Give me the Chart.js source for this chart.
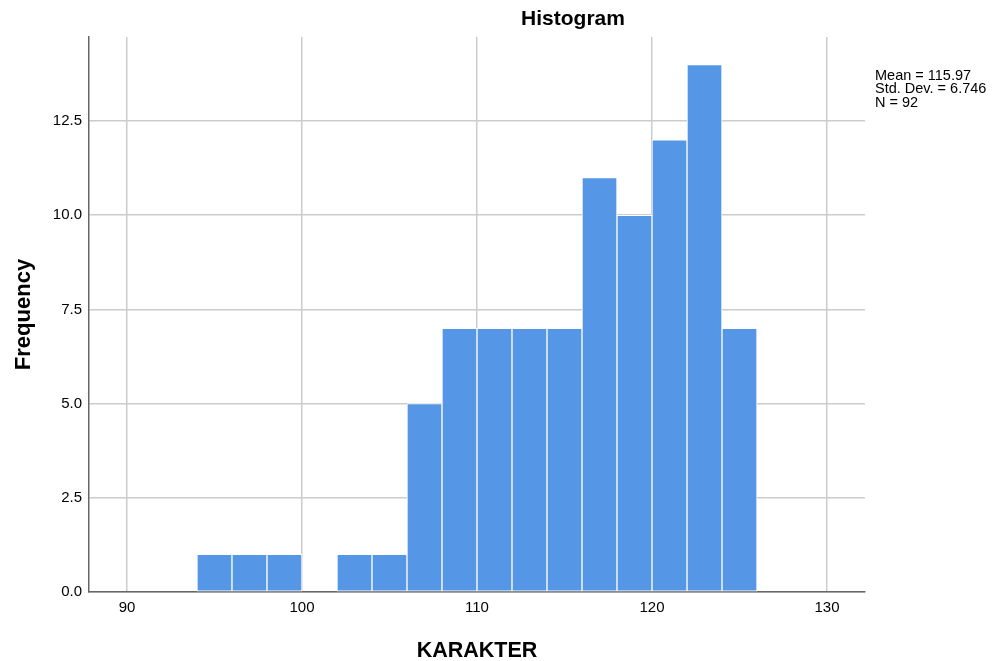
<!DOCTYPE html>
<html><head><meta charset="utf-8">
<script src="https://cdn.jsdelivr.net/npm/chart.js@4.4.0/dist/chart.umd.min.js"></script>
<style>html,body{margin:0;padding:0;background:#fff}#wrap{width:997px;height:661px;position:relative}</style>
</head><body><div id="wrap"><canvas id="c"></canvas></div>
<script>
const binCenters = [95, 97, 99, 101, 103, 105, 107, 109, 111, 113, 115, 117, 119, 121, 123, 125];
const frequencies = [1, 1, 1, 0, 1, 1, 5, 7, 7, 7, 7, 11, 10, 12, 14, 7];
const statsLines = ["Mean = 115.97", "Std. Dev. = 6.746", "N = 92"];
const chartTitle = "Histogram";
const xTitle = "KARAKTER";
const yTitle = "Frequency";

const FONT = "'Liberation Sans', Arial, sans-serif";

const overlay = {
  id: 'overlay',
  afterDraw(chart) {
    const ctx = chart.ctx;
    ctx.save();
    ctx.fillStyle = '#000';
    ctx.font = "bold 21px " + FONT;
    ctx.textAlign = 'center';
    ctx.textBaseline = 'middle';
    ctx.fillText(chartTitle, 573, 19);
    ctx.font = "14.5px " + FONT;
    ctx.textAlign = 'left';
    statsLines.forEach((s, i) => ctx.fillText(s, 875, 75.5 + i * 13.5));
    ctx.restore();
  }
};

const data = binCenters.map((x, i) => ({x: x, y: frequencies[i]}));

new Chart(document.getElementById('c'), {
  type: 'bar',
  data: { datasets: [{
    data: data,
    backgroundColor: '#5596e6',
    borderColor: '#ffffff',
    borderWidth: 1,
    borderSkipped: false,
    barPercentage: 1,
    categoryPercentage: 1
  }]},
  options: {
    responsive: true,
    maintainAspectRatio: false,
    animation: false,
    layout: { padding: { left: 0, top: 37, right: 132, bottom: 0 } },
    plugins: { legend: { display: false }, tooltip: { enabled: false } },
    scales: {
      x: {
        type: 'linear',
        offset: false,
        min: 87.83, max: 132.17,
        afterFit(s) { s.height = 69; },
        ticks: { stepSize: 10, includeBounds: false, color: '#000', font: { family: FONT, size: 15 }, padding: 7 },
        grid: { color: '#cccccc', lineWidth: 1.5, drawTicks: false, offset: false },
        border: { color: '#666666', width: 1.5 },
        title: { display: true, text: xTitle, color: '#000', font: { family: FONT, size: 21.5, weight: 'bold' }, padding: { top: 22, bottom: -2.5 } }
      },
      y: {
        min: 0, max: 14.73,
        afterFit(s) { s.width = 89; },
        ticks: { stepSize: 2.5, includeBounds: false, color: '#000', font: { family: FONT, size: 15 }, padding: 7,
                 callback: v => v.toFixed(1) },
        grid: { color: '#cccccc', lineWidth: 1.5, drawTicks: false },
        border: { color: '#666666', width: 1.5 },
        title: { display: true, text: yTitle, color: '#000', font: { family: FONT, size: 22, weight: 'bold' }, padding: { top: 11, bottom: 8 } }
      }
    }
  },
  plugins: [overlay]
});
</script></body></html>
